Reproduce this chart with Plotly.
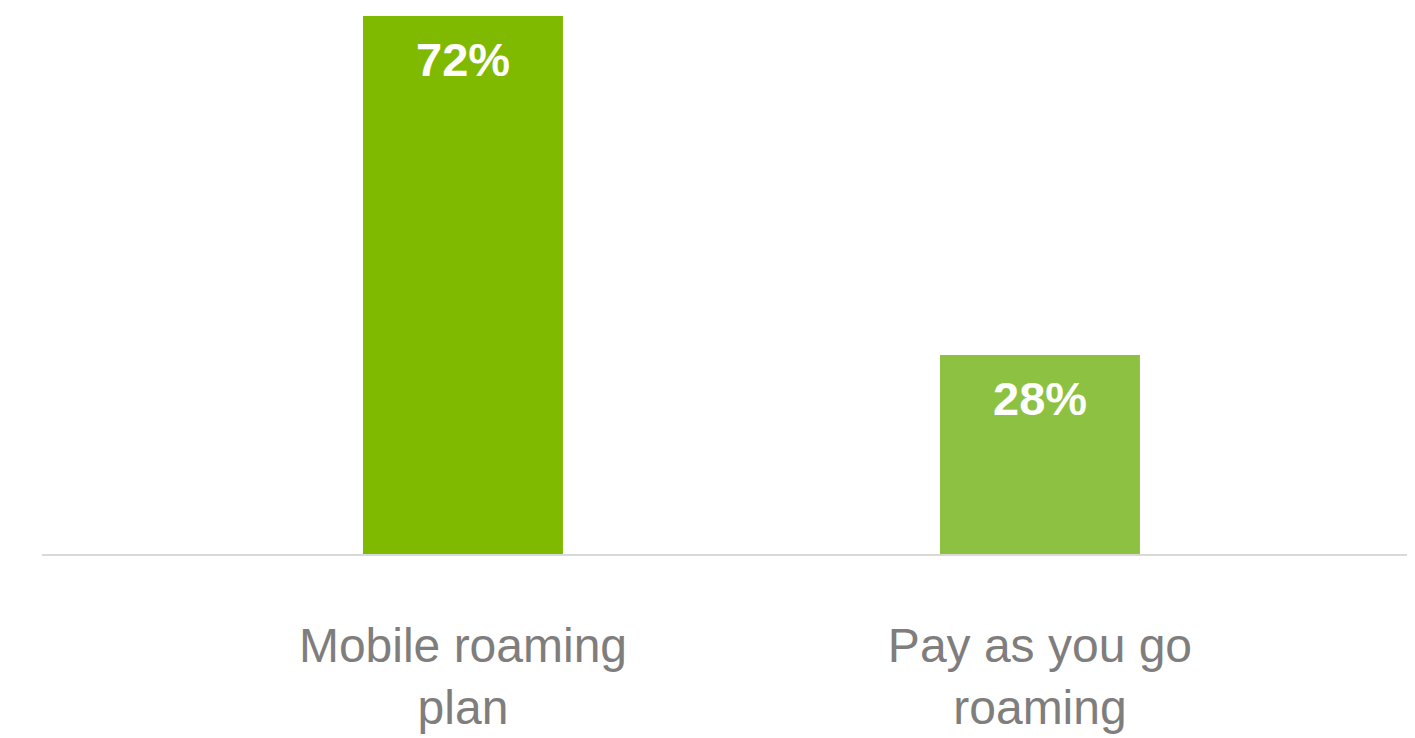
import plotly.graph_objects as go

categories = ["Mobile roaming<br>plan", "Pay as you go<br>roaming"]
values = [72, 28]
labels = ["72%", "28%"]
colors = ["#80BA00", "#8DC141"]

fig = go.Figure()
fig.add_trace(go.Bar(
    x=categories, y=values, marker=dict(color=colors, line=dict(width=0)),
    width=0.3466, hoverinfo="skip",
))

for c, v, t in zip(categories, values, labels):
    fig.add_annotation(x=c, y=v, text=t, showarrow=False, yanchor="top", yshift=-15,
                       font=dict(family="Liberation Sans, Arial", size=47, color="white", weight="bold"))

fig.update_layout(
    width=1407, height=730,
    margin=dict(l=34, r=0, t=8, b=184),
    paper_bgcolor="white", plot_bgcolor="white",
    showlegend=False,
    xaxis=dict(range=[-0.7296, 1.65], showline=True, linecolor="#D9D9D9", linewidth=2,
               showgrid=False, ticks="", ticklabelstandoff=48,
               tickfont=dict(family="Liberation Sans, Arial", size=48, color="#807D7D")),
    yaxis=dict(range=[2.18, 72], visible=False, showgrid=False),
)
fig.write_html("out.html")
